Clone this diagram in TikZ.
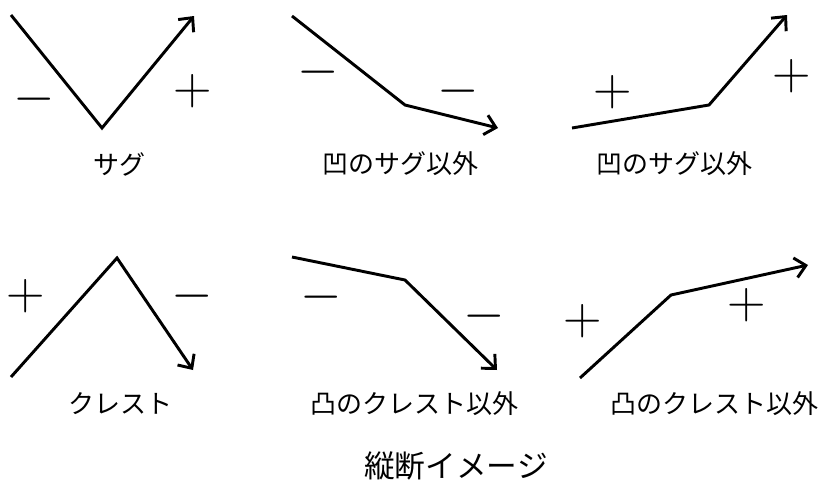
\documentclass[tikz,border=0pt]{standalone}
\usepackage{fix-cm}
\usepackage{fontspec}
\newfontfamily\jpfont{Noto Sans CJK JP}
\usetikzlibrary{arrows.meta}

\begin{document}
\begin{tikzpicture}[x=0.75pt, y=-0.75pt,
	road/.style={line width=2.2pt},
	roadarrow/.style={road, -{Straight Barb[length=8pt, width=15pt, line width=2.2pt]}},
	sign/.style={inner sep=0pt, font=\fontsize{40}{40}\selectfont},
	caption/.style={inner sep=0pt, font=\jpfont\fontsize{19.5}{19.5}\selectfont},
	title/.style={inner sep=0pt, font=\jpfont\fontsize{23}{23}\selectfont}]
	\useasboundingbox (0,0) rectangle (825,482);

	% upper row: sags
	\coordinate (sagA) at (11,15);   \coordinate (sagB) at (102,128); \coordinate (sagC) at (194,16);
	\coordinate (sagdA) at (292,16); \coordinate (sagdB) at (405,105); \coordinate (sagdC) at (498,128);
	\coordinate (saguA) at (572,128);\coordinate (saguB) at (709,105); \coordinate (saguC) at (787,15);
	\draw[roadarrow] (sagA) -- (sagB) -- (sagC);
	\draw[roadarrow] (sagdA) -- (sagdB) -- (sagdC);
	\draw[roadarrow] (saguA) -- (saguB) -- (saguC);

	% lower row: crests
	\coordinate (crA) at (11,377);   \coordinate (crB) at (117,258);  \coordinate (crC) at (193,370);
	\coordinate (crdA) at (292,257); \coordinate (crdB) at (405,280); \coordinate (crdC) at (497,370);
	\coordinate (cruA) at (580,378); \coordinate (cruB) at (671,295); \coordinate (cruC) at (808,265);
	\draw[roadarrow] (crA) -- (crB) -- (crC);
	\draw[roadarrow] (crdA) -- (crdB) -- (crdC);
	\draw[roadarrow] (cruA) -- (cruB) -- (cruC);

	% gradient signs
	\foreach \x/\y/\s [count=\i] in {34/99/-, 193/91/+, 318/72/-, 458/91/-, 613/92/+, 792/76/+,
		26/296/+, 192/296/-, 321/297/-, 484/316/-, 583/321/+, 747/305/+}
		\node[sign] (sign\i) at (\x,\y) {$\s$};

	% captions
	\foreach \x/\y/\lbl [count=\i] in {119/164/サグ, 400/164/凹のサグ以外, 674/164/凹のサグ以外,
		120/404/クレスト, 414/404/凸のクレスト以外, 714/404/凸のクレスト以外}
		\node[caption] (cap\i) at (\x,\y) {\lbl};
	\node[title] (title) at (456,466) {縦断イメージ};
\end{tikzpicture}
\end{document}
